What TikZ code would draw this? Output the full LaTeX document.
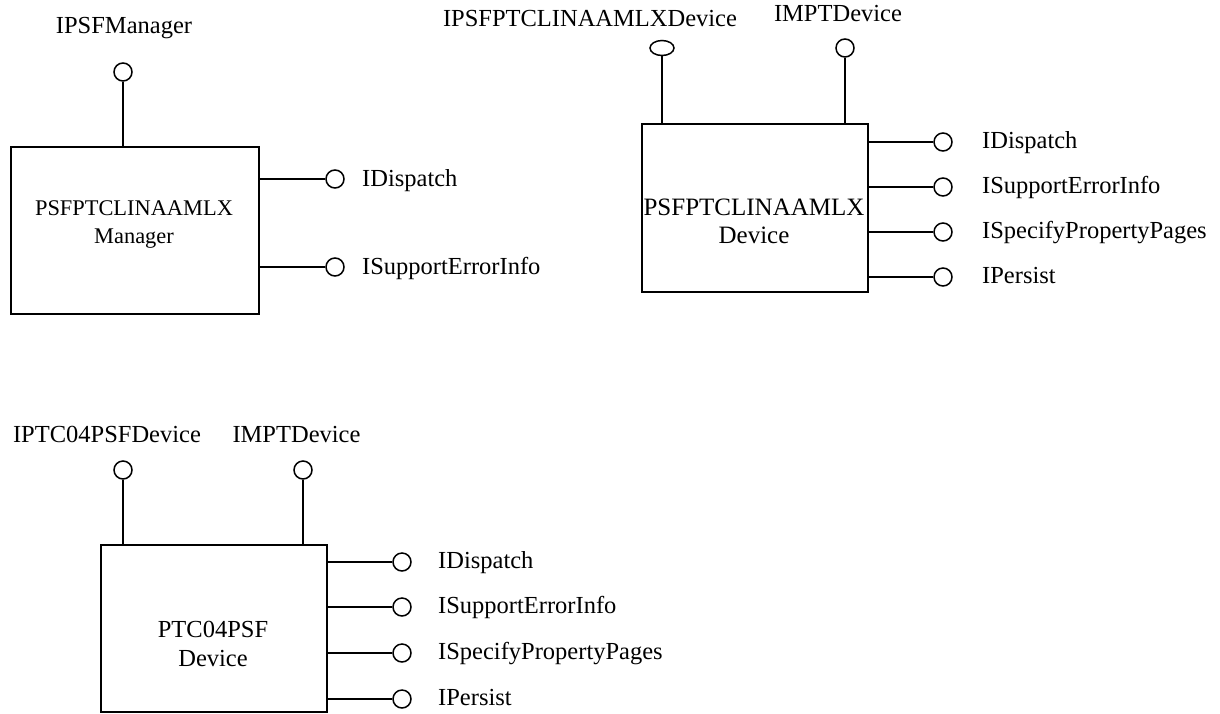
\documentclass[tikz,border=0pt]{standalone}
\usepackage{fontspec}
\setmainfont{Liberation Serif}
\usetikzlibrary{shapes.geometric}
\begin{document}
\begin{tikzpicture}[x=1pt,y=-1pt,
  comp/.style={draw, line width=1.8pt, inner sep=0pt, rectangle},
  lolli/.style={draw, circle, line width=1.5pt, minimum size=18pt, inner sep=0pt, fill=white},
  oval/.style={draw, ellipse, line width=1.5pt, minimum width=24pt, minimum height=15pt, inner sep=0pt, fill=white},
  wire/.style={line width=1.8pt},
  lbl/.style={font=\fontsize{24.5}{29}\selectfont, inner sep=0pt},
  lblbig/.style={font=\fontsize{25}{29}\selectfont, inner sep=0pt},
  lblsmall/.style={font=\fontsize{22.4}{27}\selectfont, inner sep=0pt}
]
\useasboundingbox (0,0) rectangle (1220,713);

% ---------- Manager ----------
\node[comp, minimum width=248pt, minimum height=167pt] (mgr) at (135,230.5) {};
\node[lblsmall, anchor=base] (mgrA) at (134,215) {PSFPTCLINAAMLX};
\node[lblsmall, anchor=base] (mgrB) at (134,243) {Manager};

\node[lolli] (mtop) at (123,72) {};
\draw[wire] (mtop) -- (mtop |- mgr.north);
\node[lbl, anchor=base] (mtopL) at (124,33) {IPSFManager};

\node[lolli] (m1) at (335,179) {};
\draw[wire] (mgr.east |- m1) -- (m1);
\node[lbl, anchor=base west] (m1L) at (362,186) {IDispatch};
\node[lolli] (m2) at (335,267) {};
\draw[wire] (mgr.east |- m2) -- (m2);
\node[lbl, anchor=base west] (m2L) at (362,274) {ISupportErrorInfo};

% ---------- PSFPTCLINAAMLX Device ----------
\node[comp, minimum width=226pt, minimum height=168pt] (dev) at (755,208) {};
\node[lblbig, anchor=base] (devA) at (754,215) {PSFPTCLINAAMLX};
\node[lblbig, anchor=base] (devB) at (754,243) {Device};

\node[oval] (dtop1) at (662,48) {};
\draw[wire] (dtop1) -- (dtop1 |- dev.north);
\node[lbl, anchor=base] (dtop1L) at (590,26) {IPSFPTCLINAAMLXDevice};
\node[lolli] (dtop2) at (845,48) {};
\draw[wire] (dtop2) -- (dtop2 |- dev.north);
\node[lbl, anchor=base] (dtop2L) at (838,21) {IMPTDevice};

\node[lolli] (d1) at (943,142) {};
\draw[wire] (dev.east |- d1) -- (d1);
\node[lbl, anchor=base west] (d1L) at (982,148) {IDispatch};
\node[lolli] (d2) at (943,187) {};
\draw[wire] (dev.east |- d2) -- (d2);
\node[lbl, anchor=base west] (d2L) at (982,193) {ISupportErrorInfo};
\node[lolli] (d3) at (943,232) {};
\draw[wire] (dev.east |- d3) -- (d3);
\node[lbl, anchor=base west] (d3L) at (982,238) {ISpecifyPropertyPages};
\node[lolli] (d4) at (943,277) {};
\draw[wire] (dev.east |- d4) -- (d4);
\node[lbl, anchor=base west] (d4L) at (982,283) {IPersist};

% ---------- PTC04PSF Device ----------
\node[comp, minimum width=226pt, minimum height=167pt] (ptc) at (214,628.5) {};
\node[lbl, anchor=base] (ptcA) at (213,637) {PTC04PSF};
\node[lbl, anchor=base] (ptcB) at (213,666) {Device};

\node[lolli] (ptop1) at (123,470) {};
\draw[wire] (ptop1) -- (ptop1 |- ptc.north);
\node[lbl, anchor=base] (ptop1L) at (107,442) {IPTC04PSFDevice};
\node[lolli] (ptop2) at (303,470) {};
\draw[wire] (ptop2) -- (ptop2 |- ptc.north);
\node[lbl, anchor=base] (ptop2L) at (296.5,442) {IMPTDevice};

\node[lolli] (p1) at (402,562) {};
\draw[wire] (ptc.east |- p1) -- (p1);
\node[lbl, anchor=base west] (p1L) at (438,568) {IDispatch};
\node[lolli] (p2) at (402,607) {};
\draw[wire] (ptc.east |- p2) -- (p2);
\node[lbl, anchor=base west] (p2L) at (438,613) {ISupportErrorInfo};
\node[lolli] (p3) at (402,653) {};
\draw[wire] (ptc.east |- p3) -- (p3);
\node[lbl, anchor=base west] (p3L) at (438,659) {ISpecifyPropertyPages};
\node[lolli] (p4) at (402,699) {};
\draw[wire] (ptc.east |- p4) -- (p4);
\node[lbl, anchor=base west] (p4L) at (438,705) {IPersist};
\end{tikzpicture}
\end{document}
